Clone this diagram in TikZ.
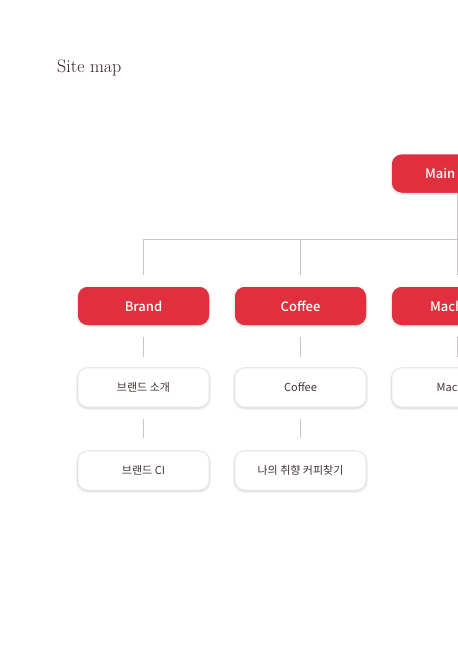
\documentclass[tikz,border=0pt]{standalone}
\usepackage{fontspec}
\newfontfamily\kr{Noto Sans CJK KR}
\newfontfamily\krm{Noto Sans CJK KR Medium}
\definecolor{brandred}{HTML}{E0303F}
\definecolor{linegray}{HTML}{C9C4C5}
\definecolor{txtdark}{HTML}{463436}
\definecolor{titlecol}{HTML}{3A1E24}
\tikzset{
  softshadow/.style={fill=black, fill opacity=0.05, draw=none, rounded corners=11pt},
  redbox/.style={draw=none, fill=brandred, rounded corners=10pt, minimum width=131pt, minimum height=38pt,
    text=white, font=\krm\fontsize{13}{15}\selectfont, inner sep=0pt},
  whitebox/.style={draw=black!8, line width=0.6pt, fill=white, rounded corners=10pt, minimum width=131pt, minimum height=39pt,
    text=txtdark, font=\kr\fontsize{11}{13}\selectfont, inner sep=0pt},
  conn/.style={draw=linegray, line width=1pt},
}
\newcommand{\shadowunder}[1]{%
  \fill[softshadow] ([xshift=-1.5pt,yshift=-2.5pt]#1.south west) rectangle ([xshift=1.5pt,yshift=0.5pt]#1.north east);
  \fill[softshadow] ([xshift=-0.5pt,yshift=-1.5pt]#1.south west) rectangle ([xshift=0.5pt,yshift=0pt]#1.north east);}
\begin{document}
\begin{tikzpicture}[x=1pt,y=-1pt]
\useasboundingbox (0,0) rectangle (458,646);
\clip (0,0) rectangle (458,646);
\fill[white] (0,0) rectangle (458,646);
\node[anchor=base west, inner sep=0pt, text=titlecol, font=\fontsize{18}{20}\selectfont] (title) at (57,72) {Site map};
% bus
\coordinate (bus) at (457.5,239);
\coordinate (busend) at (620,239);
% level 0
\path (457.5,173.5) node[redbox, text opacity=0] (main) {};
\shadowunder{main}
\node[redbox] at (main) {};
\node[anchor=west, inner sep=0pt, text=white, font=\krm\fontsize{13}{15}\selectfont] (maintxt) at (425,173.5) {Main};
% level 1
\path (143.5,306) node[redbox] (brand) {};
\path (300.5,306) node[redbox] (coffee) {};
\path (457.5,306) node[redbox] (mach) {};
\shadowunder{brand}\shadowunder{coffee}\shadowunder{mach}
\node[redbox] at (brand) {Brand};
\node[redbox] at (coffee) {Coffee};
\node[redbox] at (mach) {};
\node[anchor=west, inner sep=0pt, text=white, font=\krm\fontsize{13}{15}\selectfont] (machtxt) at (430,306) {Mach};
% level 2
\path (143.5,387.5) node[whitebox] (brand1) {};
\path (300.5,387.5) node[whitebox] (coffee1) {};
\path (457.5,387.5) node[whitebox] (mach1) {};
\path (143.5,470.5) node[whitebox] (brand2) {};
\path (300.5,470.5) node[whitebox] (coffee2) {};
\shadowunder{brand1}\shadowunder{coffee1}\shadowunder{mach1}\shadowunder{brand2}\shadowunder{coffee2}
\node[whitebox] at (brand1) {브랜드 소개};
\node[whitebox] at (coffee1) {Coffee};
\node[whitebox] at (mach1) {};
\node[anchor=west, inner sep=0pt, text=txtdark, font=\kr\fontsize{11}{13}\selectfont] (mach1txt) at (436.5,387.5) {Mach};
\node[whitebox] at (brand2) {브랜드 CI};
\node[whitebox] at (coffee2) {나의 취향 커피찾기};
% connectors
\draw[conn] (main.south) -- (bus);
\draw[conn] (brand.north |- bus) -- (busend);
\draw[conn] (brand.north |- bus) -- ([yshift=12pt]brand.north);
\draw[conn] (coffee.north |- bus) -- ([yshift=12pt]coffee.north);
\draw[conn] (bus) -- ([yshift=12pt]mach.north);
\draw[conn] ([yshift=-12pt]brand.south) -- ([yshift=11pt]brand1.north);
\draw[conn] ([yshift=-12pt]coffee.south) -- ([yshift=11pt]coffee1.north);
\draw[conn] ([yshift=-12pt]mach.south) -- ([yshift=11pt]mach1.north);
\draw[conn] ([yshift=-12pt]brand1.south) -- ([yshift=13pt]brand2.north);
\draw[conn] ([yshift=-12pt]coffee1.south) -- ([yshift=13pt]coffee2.north);
\end{tikzpicture}
\end{document}
